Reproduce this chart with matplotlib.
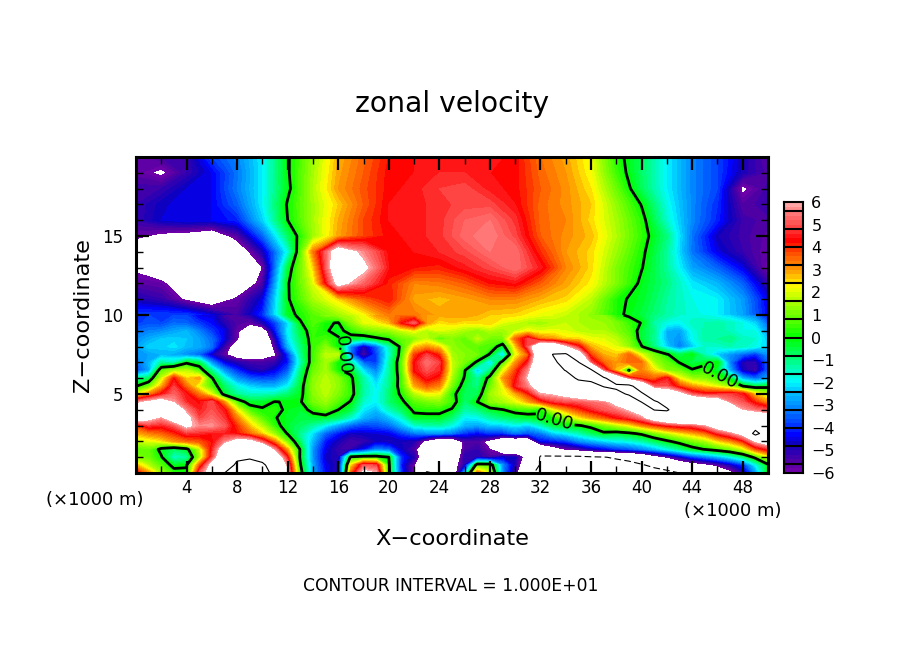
import numpy as np
import matplotlib
matplotlib.use("Agg")
import matplotlib.pyplot as plt
from matplotlib.colors import LinearSegmentedColormap, BoundaryNorm

# upper part of the section: 2 km columns, 1 km rows
x_upper = list(range(0, 51, 2))
z_upper = [20, 19, 18, 17, 16, 15, 14, 13, 12, 11]
u_upper = [
 [-5.8,-5.4,-5.2,-3.8,-3.1,-2,-0.1,1.4,2.8,3.5,4.2,4.4,4.5,4.5,4.5,4.3,3.4,2.9,2.1,.3,-.7,-2,-3.1,-3.8,-4.8,-5.7],
 [-5.7,-6.2,-5.2,-4.4,-3.3,-2,-0.1,1.5,2.9,3.6,4.3,4.4,4.6,4.6,4.4,4.3,3.5,3,2.2,.5,-.8,-2,-3.1,-3.8,-4.9,-5.5],
 [-5.3,-5.2,-4.6,-4.4,-3.2,-2,-.2,1.6,3,3.7,4.3,4.5,4.8,4.9,4.5,4.3,3.6,3.1,2.4,.9,-.7,-2,-3.1,-3.8,-6.2,-5.3],
 [-5.2,-4.7,-4.4,-4.4,-3.5,-2,.1,1.5,2.6,3.6,4.4,4.5,4.7,4.9,4.9,4.4,3.5,3.1,2.6,1.3,-.05,-1.8,-3.1,-4,-5.6,-5.2],
 [-5.2,-4.6,-4.4,-4.4,-4.1,-2.3,0,1.5,2.8,3.8,4.4,4.5,4.7,5.2,5.4,4.7,3.5,3.2,2.5,1.5,.3,-1.6,-3.1,-4.1,-5.3,-5.5],
 [-5.8,-6.3,-6.5,-7,-5.6,-3.5,-.8,1.4,2.9,3.8,4.3,4.5,4.7,5.3,5.6,4.9,3.6,3.1,2.7,1.6,.4,-1,-3.3,-4.8,-5.3,-5.7],
 [-7,-8,-8,-8,-7,-4.9,-1.8,3.3,7,5.6,4.3,4.4,4.6,4.9,5.4,5.4,4,3,2.5,1.4,.2,-1.2,-3.3,-4.5,-5.2,-5.8],
 [-6.2,-7,-8,-8,-8,-6,-.5,2.5,7.5,6.3,4.4,4.2,4.1,4.5,4.9,5.4,4.5,3.2,2.5,1.1,.05,-1.2,-2.8,-3.5,-4.5,-6],
 [-5.6,-5.8,-7,-8,-7.5,-5.5,-.1,2,6.5,5.2,4.1,3.2,3.3,3.6,4.2,4.4,3.6,2.9,2.3,1.1,-.2,-1,-2.1,-2.6,-3.5,-5.2],
 [-4.9,-5.2,-6.2,-7,-5.8,-4.5,-.1,1.5,2.5,3.6,4.2,2.9,2.7,2.9,3.2,3.2,2.8,2.5,1.7,.2,-.3,-1.2,-1.8,-2,-2.9,-4.5],
]

# lower part: 1 km columns, 0.5 km rows
x_lower = list(range(0, 51))
z_lower = [10, 9.5, 9, 8.5, 8, 7.5, 7, 6.5, 6, 5.5, 5, 4.5, 4, 3.5, 3, 2.5, 2, 1.5, 1, 0.5, 0]
u_lower = [
 [-3.8,-3.8,-3.8,-3.8,-3.8,-4.5,-4.5,-5.4,-5.4,-5, -4,-2.5,-.3,.2,.7,1.2,1.4,1.7,2.2,3, 3.3,3.5,3.3,3,2.9,2.9,3,2.8,2.6,2.6, 2.5,2.3,2.1,2,1.8,1.6,1.3,1.2,.2,-.15, -.5,-1,-1.3,-1.6,-1.7,-1.8,-2,-2.3,-2.8,-3.3,-4.4],
 [-3.9,-3.7,-3.8,-3.4,-3.5,-3.9,-4.3,-5,-5.5,-5.8, -5,-3.8,-2.2,-.1,.7,.1,-.05,1.2,2,2.2, 2.7,4.2,5.2,3,2.4,2.6,2.4,2.5,2.6,2, 1.8,1.5,1.4,1.6,1.8,1.6,1.5,1.4,1.1,.5, -.05,-1.3,-1.8,-2,-1.5,-1.4,-1.3,-1.5,-1.8,-2.3,-3.5],
 [-3.4,-3.2,-3.1,-2.8,-2.6,-3.2,-3.9,-4.5,-5.8,-7, -7,-4.2,-2,-.5,.5,.1,-.3,.4,.9,1.2, 1.3,1.8,2.2,1.6,2,1.8,1.5,1.2,1.6,1.4, 1.8,2.2,2,2.1,2,1.7,1.6,1.6,1.2,.7, -.4,-1.1,-2.6,-2.8,-1.8,-1.3,-1.2,-1.5,-1.8,-1.8,-3],
 [-3.1,-2.7,-2.4,-2.3,-2.4,-2.8,-3.4,-4.5,-5.9,-8, -8,-5,-2.2,-.7,.4,.6,.1,-.4,-.6,-.2, .2,.9,1.2,1.8,.7,1.2,.8,1.7,1,1, 3.5,4.8,3.3,3,2.5,2.5,2.1,2,1.7,1, -.4,-1.2,-2.6,-3,-1.9,-1.3,-1.2,-1,-1.5,-1.6,-2.4],
 [-2.8,-2.3,-2.3,-2.1,-2.5,-2.7,-3.3,-5.3,-7,-9, -8.5,-5.5,-2.6,-1,.4,1.2,-.1,-3.2,-5,-3.5, -1.5,.3,2.5,3,2.5,1.3,1,.8,.6,-.5, 2.5,5,8,8,6,4.5,2.8,2.4,2,1.3, .05,-1,-2.3,-3.3,-2.4,-1.6,-1.6,-1.4,-1.5,-1.8,-2.3],
 [-3,-2.8,-2.6,-2.7,-3.1,-3.5,-4.8,-5.8,-7,-7.5, -7,-6.2,-4,-1.2,.5,1.7,1.8,-3.3,-5.6,-3.8, -1.7,.5,3.8,4.8,4,1.5,1.2,1,-.1,-2.5, 2,3.5,8,10.1,10.5,7,3.8,2.8,2.6,3.5, 2,1,.1,-.7,-.1,-1.5,-2.4,-3,-3.5,-4,-3],
 [-3.5,-2.6,-1.3,-1.5,-.2,-.6,-3,-4.5,-5,-5.3, -5.4,-5.2,-4.2,-1.5,.6,1.5,0,-1.3,-3.5,-3.8, -1.4,.8,4.3,5.4,4.8,1.8,1,-.2,-2.4,.5, 3,4.5,8,9.5,11,10.2,5,3.5,3,3.5, 3.4,1.5,.8,-.05,-.6,-.3,0,-3.2,-5,-5.2,-3.5],
 [-3.8,-2.8,.8,1.5,1.7,.6,-1.2,-3,-4,-4.8, -5,-4.5,-3.6,-1,.9,1.5,.1,-.3,-2.2,-3.2, -1.3,.7,4.3,5,4.6,1.8,.1,-2.5,-1,2, 3.8,5.5,8,9,10.1,10.9,10.6,5,2.6,-.1, 3.2,2.4,1.2,1,.1,.5,-.5,-2.7,-4.8,-5.3,-3.5],
 [-1.2,-.8,1.8,4.2,2.5,3,.1,-1.7,-3,-3.6, -3.8,-3.7,-2.8,-.7,1.2,1.7,1.2,.2,-1.3,-2.5, -1.2,.5,3.5,4.5,4,1.5,-.1,-1.3,.4,3, 4.2,6,8,8,8.5,10.5,11,10.6,7.5,4.8, 3.8,3.5,4.5,2.2,1.4,1.2,.5,-.5,-2.7,-3.5,-2.8],
 [-.05,.9,2.8,4.8,3.4,2,.6,-.8,-1.8,-2.3, -2.6,-2.6,-2,-.4,1.3,1.8,1.3,.3,-1.2,-2.1, -1.1,.5,2.8,3.6,3.2,1,-.5,-1.1,.9,2.2, 4.5,5.5,7,7.5,8,8.3,8.7,10.2,10.7,10.9, 8,5,5,3.8,3,2.5,2,1.3,0,-.6,-.4],
 [2,3.2,4.3,5.2,4.4,3.3,2,-.4,-1.2,-1.5, -1.5,-1.4,-.9,-.3,1.2,1.7,1.1,.4,-1.3,-2, -.9,.2,1.6,2.2,2.1,.3,-.7,-.7,1.4,2, 2.8,4,5.7,6,6.5,7,7.5,8,9,10.4, 10.5,8,7.5,6.5,5,4.5,4.6,4.8,4.4,2.6,1.8],
 [5.5,6.2,6.8,5.8,4.6,4.3,5,3,.6,-.4, -.4,.05,-.1,-.1,1,1.4,.7,-.1,-1.6,-2, -.9,-.2,.7,1,1.2,.5,-.9,0,1.3,1.5, 2,2.8,3.8,4.6,4.9,5,5.3,5.5,6.5,7.5, 10.1,10.4,9,7.5,8,7.5,7,5.5,5,4,3],
 [7.5,8,8,7.5,5.5,4.5,5,4.4,2.2,.6, .15,.3,-.2,-.4,.3,.8,0,-.6,-2.1,-2.5, -1.5,-.8,.2,.3,.3,-.1,-1.3,-1,-.4,-.05, .4,.5,.1,2,3,3.8,4.5,5,5.3,6, 7,10.1,10.3,8.5,8,8,8,7.5,5.8,5.3,5],
 [7.5,6.5,5.7,7,6.5,4.8,5.3,4.7,3.2,1.8, .7,.05,-.3,-.5,-.4,-.4,-.8,-1.6,-2.6,-3, -2.5,-1.7,-.3,-.3,-.3,-.9,-2,-1.9,-1.3,-.9, -.6,-.4,-.1,.2,1.2,2.3,3,3.6,4.3,4.7, 5.5,7,8,9,9,9,9,9,8.5,7.5,7],
 [3.8,4.7,4.5,5,6.3,5.6,5.7,5.1,3.9,2.6, 1.6,.3,-.4,-.8,-1.3,-2,-2.8,-3.5,-3.8,-3.7, -3.4,-2.6,-1.7,-1.4,-1.3,-1.8,-2.6,-2.8,-2.4,-2.3, -2,-2.3,-1.6,-.6,-.2,-.1,.3,1,1.6,2.2, 3.1,3.8,4.4,4.7,4.9,5.6,7,8,8,8.5,8],
 [2.8,3.2,3.5,4,4.7,4.6,4.4,4.5,4.2,3.4, 2.5,1.3,-.1,-1.2,-2.2,-3.5,-4.2,-4.8,-4.7,-4.6, -4.5,-3.9,-3.3,-3.1,-3,-3.3,-4,-4.4,-3.9,-4, -3.3,-3.7,-3.3,-2.4,-2,-1.5,-.8,-.2,-.4,-.2, .2,1,1.7,2.3,2.8,3.3,4.5,5.3,6.5,11,8],
 [1.7,2,2.3,3,3.4,3.6,4.2,5.5,6.5,6.5, 5,3.2,1,-.9,-2.6,-4.2,-4.9,-5.4,-5.2,-4.8, -4.9,-4.8,-5,-6.5,-8,-8,-5.5,-5.5,-6.5,-8, -8,-8,-4.4,-4.2,-3.9,-3.1,-2.7,-2.3,-2,-1.8, -1.4,-.8,-.2,.4,1,1.5,2.4,3,4,6,7],
 [.8,.9,-.3,-.8,-.3,1.7,4.5,7,9,9, 8,5.5,2.8,-.1,-3,-4.5,-5.2,-5.2,-4.4,-3.2, -3.5,-4.7,-5.5,-8,-8,-8,-5.5,-5.2,-6,-8, -8,-9,-8.9,-7,-6,-5.6,-4.9,-4.5,-4,-3.7, -3.2,-2.6,-1.9,-1.2,-.4,.05,.5,1,1.8,3.6,4.5],
 [1.2,.9,.1,-1.6,-1.3,1.4,4.7,8,9.5,9.7, 9,7.5,4.3,-.2,-3,-4.7,-5,.3,.6,.5, 0,-4,-5,-8,-8,-8,-5,-5,-5.5,-4.7, -4.8,-7,-10.2,-10.5,-10.6,-10.6,-10.3,-10.1,-9.7,-9.5, -8.5,-7,-6,-5,-4,-3.4,-2.7,-2,-1.1,.3,1.8],
 [2.8,1.6,.7,-.3,-.05,3.5,6.5,8.5,10.5,11, 10.5,8.5,5.5,.1,-2.8,-4.5,-5,2.4,5,4.8, .2,-4.2,-6,-8,-8,-7,-5,.8,.8,-3, -5,-8,-10.2,-11,-11,-11,-11,-11,-11,-10.5, -10.2,-9.5,-8.5,-7.5,-7,-6.5,-5.8,-5,-4,-2,-.2],
 [4.5,3,1.5,.4,.1,5,7,10,11,12, 10.7,9.5,6,.5,-2.8,-4.3,-5.2,3.5,6.5,6, .3,-4,-6,-10.4,-9.5,-8,-2.5,3.5,2,-3, -5.5,-9,-11,-12,-12,-12,-12,-12,-12,-12, -11.5,-11,-10.8,-10,-9,-8.5,-7.5,-6.5,-5.2,-3,-.05],
]

cbar_fill_levels = [round(v, 1) for v in np.arange(-6, 6.01, 0.2)]
cbar_lines = [-5.6, -4.8, -4, -3.2, -2.4, -1.6, -0.8, 0, 0.8, 1.6, 2.4, 3.2, 4, 4.8, 5.6]
cbar_ticks = list(range(-6, 7))
x_ticks = list(range(4, 49, 4))
z_ticks = [5, 10, 15]

stops = [(-6,(110,0,170)),(-5.6,(80,0,165)),(-4.8,(15,0,190)),(-4.4,(0,0,255)),(-3.8,(0,70,255)),
         (-3.1,(0,140,255)),(-2.4,(0,200,255)),(-2,(0,250,255)),(-1,(0,255,128)),(0,(0,255,0)),(.8,(90,255,0)),
         (1.6,(170,255,0)),(2.3,(255,255,0)),(2.9,(255,170,0)),(3.7,(255,90,0)),(4.4,(255,0,0)),
         (5,(255,70,70)),(5.6,(255,120,120)),(6,(255,165,165))]
cmap = LinearSegmentedColormap.from_list(
    "ncl", [((v + 6) / 12, tuple(c / 255 for c in rgb)) for v, rgb in stops], N=60)
cmap.set_over("white")
cmap.set_under("white")
norm = BoundaryNorm(cbar_fill_levels, cmap.N, clip=False)

W, H = 904, 654
fig = plt.figure(figsize=(W / 100, H / 100), dpi=100, facecolor="white")
plt.rcParams["font.family"] = "DejaVu Sans"
ax = fig.add_axes([136 / W, 1 - 473 / H, 632 / W, 316 / H])

lower = np.array(u_lower, dtype=float)
upper = np.vstack([np.array(u_upper, dtype=float), lower[0, ::2]])
z_up = z_upper + [z_lower[0]]

zero_sets = []
for xs, zs, U in [(x_upper, z_up, upper), (x_lower, z_lower, lower)]:
    ax.contourf(xs, zs, U, levels=cbar_fill_levels, cmap=cmap, norm=norm, extend="both")
for xs, zs, U in [(x_upper, z_up, upper), (x_lower, z_lower, lower)]:
    zero_sets.append(ax.contour(xs, zs, U, levels=[0], colors="k", linewidths=2))
    if np.abs(U).max() >= 10:
        ax.contour(xs, zs, U, levels=[10], colors="k", linewidths=0.8, linestyles="solid")
        ax.contour(xs, zs, U, levels=[-10], colors="k", linewidths=0.8, linestyles=[(0, (6, 3))])

ax.clabel(zero_sets[1], fmt="%.2f", fontsize=13, inline=True, inline_spacing=1,
          manual=[(33.2, 3.5), (16.5, 7.4), (46.3, 6.3)])

ax.set_xlim(0, 50)
ax.set_ylim(0, 20)
ax.set_xticks(x_ticks)
ax.set_xticks(range(2, 50, 4), minor=True)
ax.set_yticks(z_ticks)
ax.set_yticks([z for z in range(1, 20) if z % 5], minor=True)
ax.tick_params(which="major", direction="in", top=True, right=True, length=9, width=1.6, labelsize=12, pad=4)
ax.tick_params(which="minor", direction="in", top=True, right=True, length=5, width=1.0)
ax.tick_params(axis="y", which="major", pad=9)
for s in ax.spines.values():
    s.set_linewidth(2.2)

# colour bar
cax = fig.add_axes([784 / W, 1 - 473 / H, 19 / W, 271 / H])
edges = np.array(cbar_fill_levels)
cax.pcolormesh([0, 1], edges, (edges[:-1] + 0.1).reshape(-1, 1), cmap=cmap, norm=norm)
cax.hlines(cbar_lines, 0, 1, colors="k", linewidth=1.5)
cax.set_xlim(0, 1)
cax.set_ylim(-6, 6)
cax.set_xticks([])
cax.yaxis.tick_right()
cax.set_yticks(cbar_ticks)
cax.set_yticklabels([str(t).replace("-", "\u2212") for t in cbar_ticks])
cax.tick_params(axis="y", length=0, labelsize=11.5, pad=6)
for s in cax.spines.values():
    s.set_linewidth(1.5)

fig.text(452 / W, 1 - 104 / H, "zonal velocity", fontsize=20.3, ha="center", va="center")
fig.text(452 / W, 1 - 539 / H, "X\u2212coordinate", fontsize=16.2, ha="center", va="center")
fig.text(83 / W, 1 - 315 / H, "Z\u2212coordinate", fontsize=16.2, rotation=90, ha="center", va="center")
fig.text(95 / W, 1 - 500 / H, "(\u00d71000 m)", fontsize=13, ha="center", va="center")
fig.text(733 / W, 1 - 511 / H, "(\u00d71000 m)", fontsize=13, ha="center", va="center")
fig.text(451 / W, 1 - 586 / H, "CONTOUR INTERVAL = 1.000E+01", fontsize=12.3, ha="center", va="center")

fig.savefig("out.png", dpi=100, facecolor="white")
